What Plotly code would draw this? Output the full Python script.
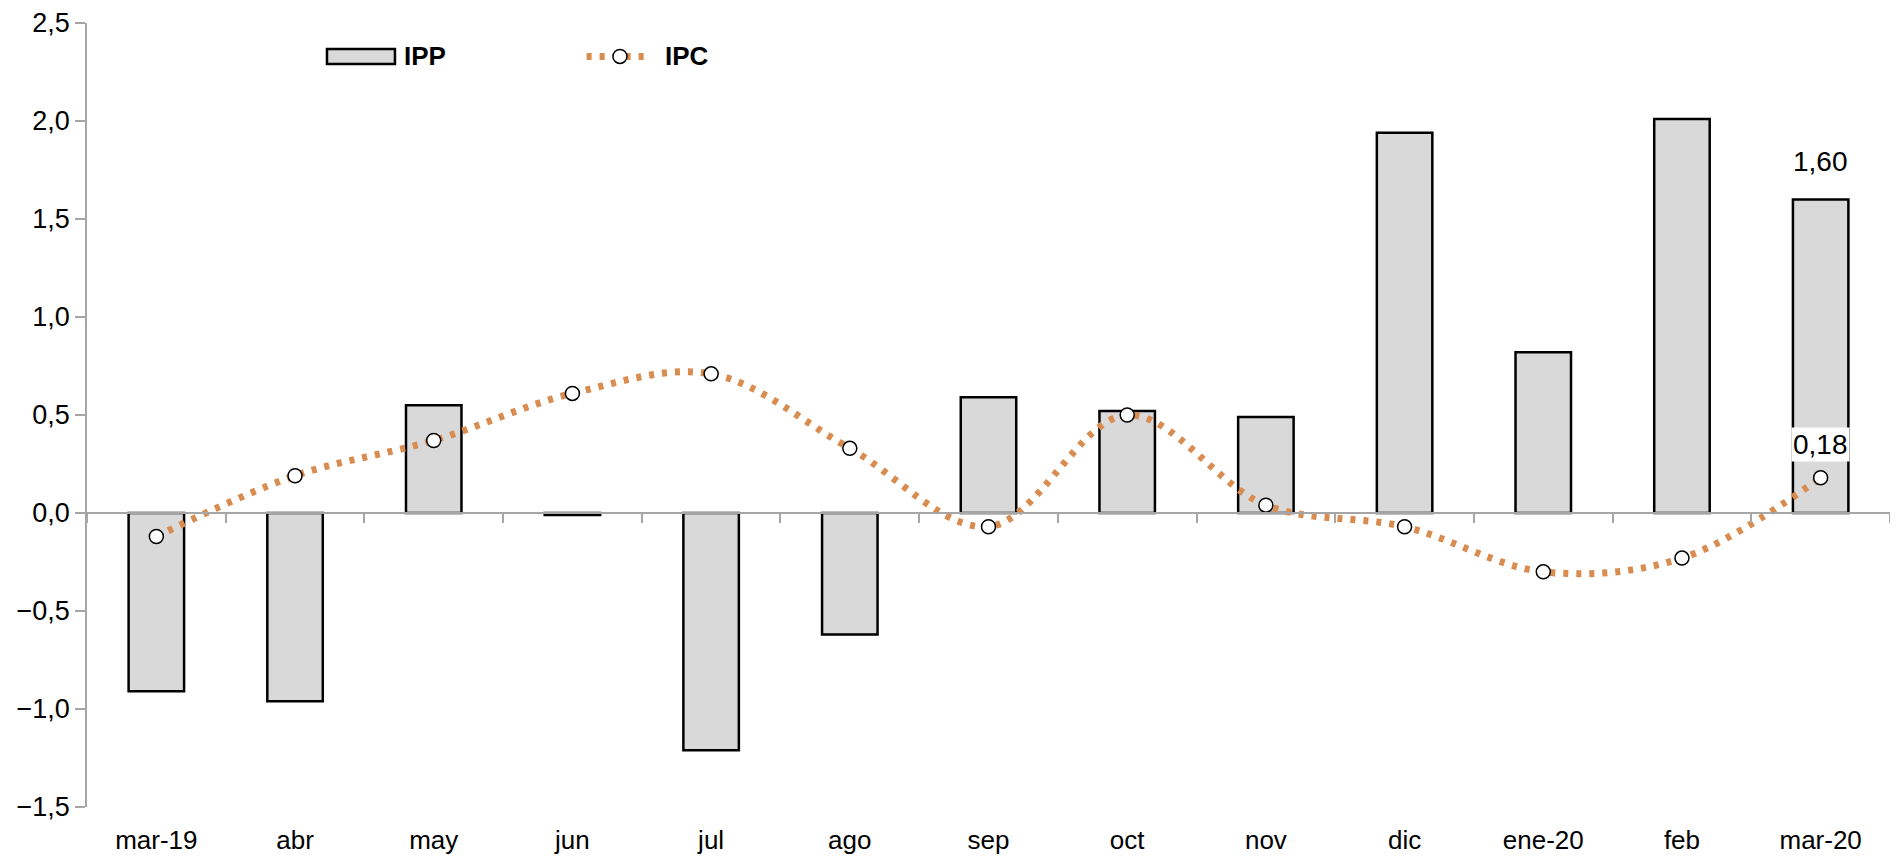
import plotly.graph_objects as go

# Colores
BAR_FILL = '#D9D9D9'
BAR_LINE = '#000000'
IPC_COLOR = '#D98C50'
AXIS_GRAY = '#A6A6A6'
FONT = 'Liberation Sans, Arial, sans-serif'

# Datos (variación mensual, %)
meses = ['mar-19', 'abr', 'may', 'jun', 'jul', 'ago', 'sep',
         'oct', 'nov', 'dic', 'ene-20', 'feb', 'mar-20']
ipp = [-0.91, -0.96, 0.55, -0.01, -1.21, -0.62, 0.59,
       0.52, 0.49, 1.94, 0.82, 2.01, 1.60]
ipc = [-0.12, 0.19, 0.37, 0.61, 0.71, 0.33, -0.07,
       0.50, 0.04, -0.07, -0.30, -0.23, 0.18]

y_min, y_max = -1.5, 2.5
x_range = [-0.5, len(meses) - 0.5]

fig = go.Figure()

fig.add_trace(go.Bar(
    x=meses,
    y=ipp,
    name='IPP',
    width=0.4,
    marker=dict(color=BAR_FILL, line=dict(color=BAR_LINE, width=2.5)),
    xaxis='x',
    showlegend=False,
))

fig.add_trace(go.Scatter(
    x=meses,
    y=ipc,
    name='IPC',
    mode='lines+markers',
    line=dict(color=IPC_COLOR, width=7, dash='5px,8px', shape='spline', smoothing=1.0),
    marker=dict(size=14, color='white', line=dict(color='black', width=1.5)),
    xaxis='x2',
    showlegend=False,
))

# etiquetas del último dato
fig.add_annotation(
    x=meses[-1], y=ipp[-1], text=f'{ipp[-1]:.2f}'.replace('.', ','),
    showarrow=False, yshift=38, font=dict(size=28, color='black', family=FONT),
)
fig.add_annotation(
    x=meses[-1], y=ipc[-1], text=f'{ipc[-1]:.2f}'.replace('.', ','),
    showarrow=False, yshift=33, bgcolor='white',
    font=dict(size=28, color='black', family=FONT),
)

# leyenda dibujada a mano (rectángulo ancho como en el original)
leg_y = 0.9574
fig.add_shape(type='rect', xref='paper', yref='paper',
              x0=0.1331, x1=0.1708, y0=0.9478, y1=0.9669,
              fillcolor=BAR_FILL, line=dict(color=BAR_LINE, width=2.5))
fig.add_annotation(xref='paper', yref='paper', x=0.1745, y=leg_y,
                   xanchor='left', yanchor='middle', showarrow=False, text='<b>IPP</b>',
                   font=dict(size=26, color='black', family=FONT))
fig.add_shape(type='line', xref='paper', yref='paper',
              x0=0.2771, x1=0.3108, y0=leg_y, y1=leg_y,
              line=dict(color=IPC_COLOR, width=7, dash='5px,8px'))
fig.add_shape(type='circle', xref='paper', yref='paper',
              xsizemode='pixel', ysizemode='pixel',
              xanchor=0.2956, yanchor=leg_y, x0=-7, x1=7, y0=-7, y1=7,
              fillcolor='white', line=dict(color='black', width=1.5))
fig.add_annotation(xref='paper', yref='paper', x=0.3194, y=leg_y,
                   xanchor='left', yanchor='middle', showarrow=False, text='<b>IPC</b>',
                   font=dict(size=26, color='black', family=FONT))

zero_pos = (0 - y_min) / (y_max - y_min)

fig.update_layout(
    width=1882,
    height=848,
    separators=',.',
    font=dict(family=FONT, size=26, color='black'),
    paper_bgcolor='white',
    plot_bgcolor='white',
    margin=dict(l=79, r=0, t=13, b=49),
    bargap=0.6,
    showlegend=False,
    xaxis=dict(
        type='category',
        range=x_range,
        showline=False,
        showgrid=False,
        ticks='',
        tickfont=dict(size=26),
        ticklabelstandoff=15,
    ),
    xaxis2=dict(
        type='category',
        overlaying='x',
        matches='x',
        anchor='free',
        position=zero_pos,
        showline=True,
        linecolor=AXIS_GRAY,
        linewidth=1.5,
        ticks='outside',
        tickson='boundaries',
        ticklen=9,
        tickcolor=AXIS_GRAY,
        tickwidth=1.5,
        showticklabels=False,
        showgrid=False,
    ),
    yaxis=dict(
        range=[y_min, y_max],
        dtick=0.5,
        tickformat='.1f',
        showgrid=False,
        zeroline=False,
        showline=True,
        linecolor=AXIS_GRAY,
        linewidth=1.5,
        ticks='outside',
        ticklen=10,
        tickcolor=AXIS_GRAY,
        tickwidth=1.5,
        tickfont=dict(size=27),
        ticklabeloverflow='allow',
    ),
)

fig.write_html("out.html")
